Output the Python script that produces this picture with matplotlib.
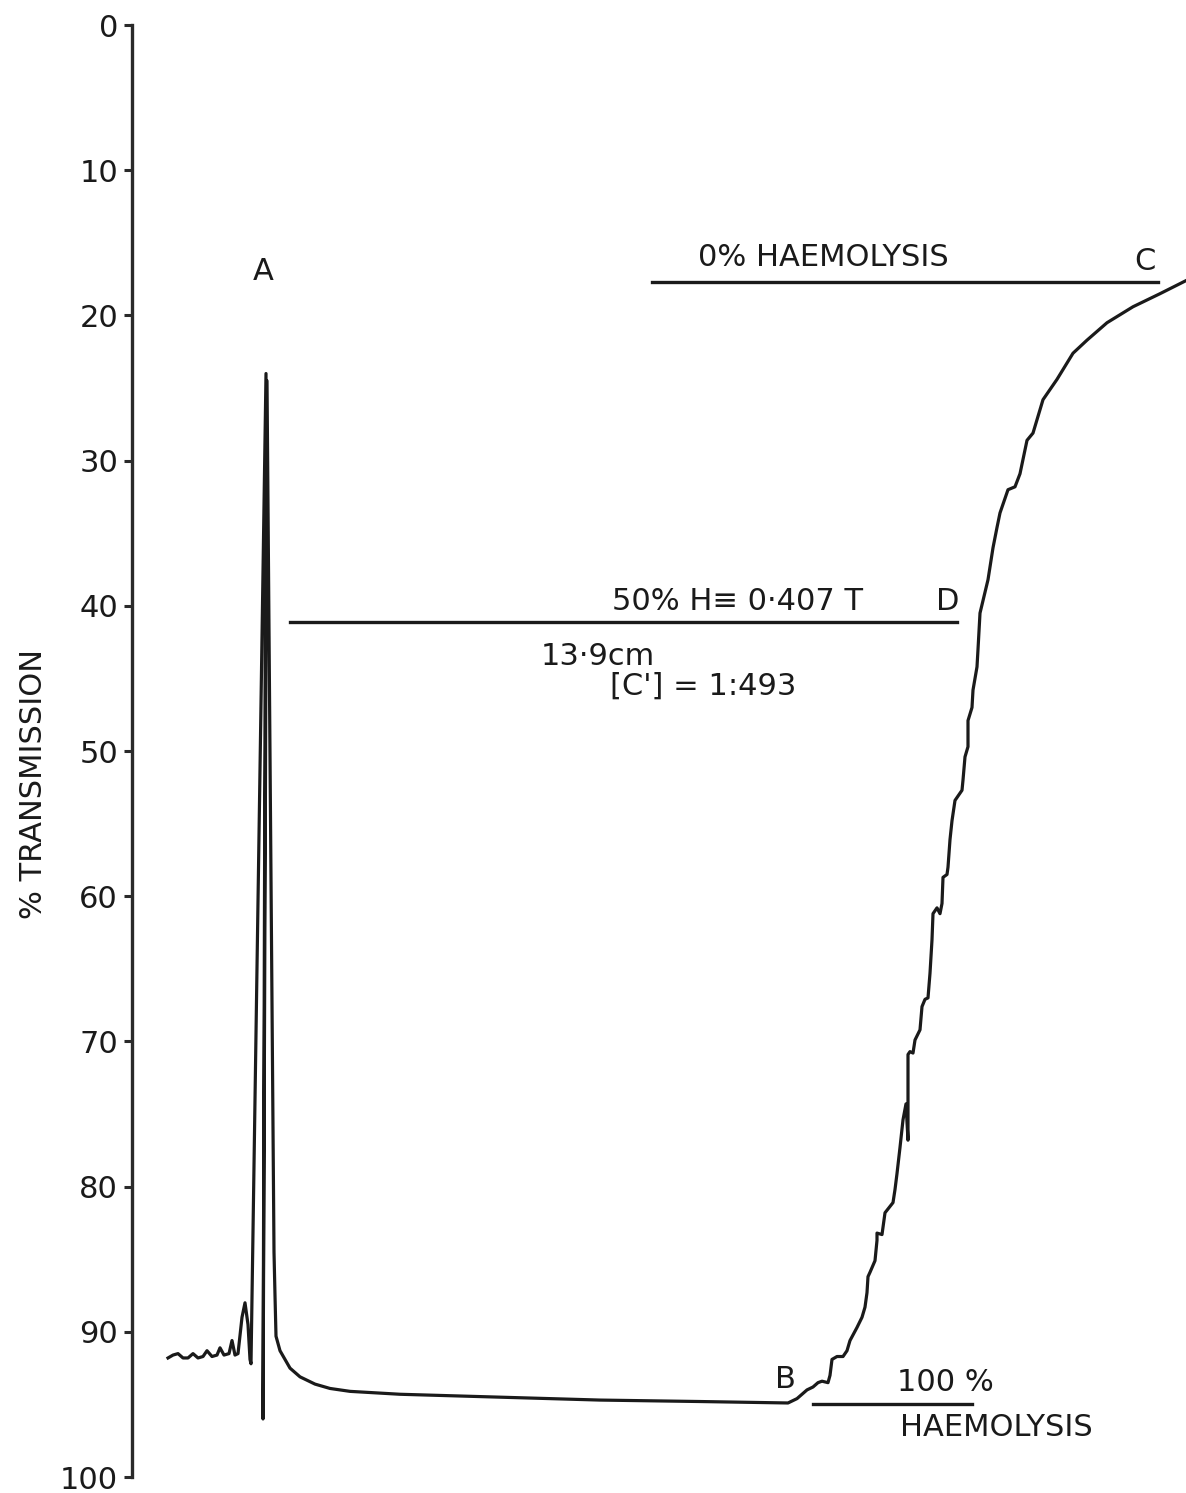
import numpy as np
import matplotlib.pyplot as plt

plt.rcParams['font.family'] = ['DejaVu Sans']

# chart distance along the recorder trace (arbitrary units) and % transmission
trace_x = [168, 173, 178, 183, 188, 193, 198, 203, 207, 212, 217, 220, 224, 229,
           232, 235, 238, 242, 245, 248, 250, 251, 266, 263, 267, 274, 275, 276,
           280, 290, 300, 315, 330, 350, 400, 500, 600, 700, 788,
           797, 807, 813, 818, 822, 828, 830, 832, 837, 843, 847, 850, 857, 862,
           865, 867, 868, 870, 875, 877, 877, 882, 885, 893, 895, 897, 900, 903,
           906, 908, 908, 908, 910, 913, 915, 920, 922, 925, 928, 930, 932, 933,
           937, 940, 942, 943, 947, 948, 950, 952, 955, 960, 962, 963, 965, 968,
           968, 972, 973, 977, 978, 980, 988, 993, 997, 1000, 1008, 1015, 1020,
           1027, 1033, 1043, 1057, 1073, 1087, 1107, 1133, 1160, 1186]
trace_t = [91.8, 91.6, 91.5, 91.8, 91.8, 91.5, 91.8, 91.7, 91.3, 91.7, 91.6, 91.1, 91.6, 91.5,
           90.6, 91.6, 91.5, 89.0, 88.0, 89.5, 91.9, 92.2, 24.0, 96.0, 24.5, 84.5, 87.5, 90.3,
           91.3, 92.5, 93.1, 93.6, 93.9, 94.1, 94.3, 94.5, 94.7, 94.8, 94.9,
           94.6, 94.0, 93.8, 93.5, 93.4, 93.5, 93.0, 91.9, 91.7, 91.7, 91.3, 90.6, 89.7, 89.0,
           88.3, 87.3, 86.2, 85.9, 85.1, 83.7, 83.2, 83.3, 81.8, 81.1, 80.2, 79.1, 77.3, 75.4,
           74.3, 76.8, 74.0, 70.9, 70.7, 70.8, 69.9, 69.2, 67.6, 67.1, 67.0, 65.3, 63.0, 61.2,
           60.8, 61.2, 60.5, 58.7, 58.5, 58.0, 56.1, 54.8, 53.4, 52.9, 52.7, 52.0, 50.4, 49.7,
           47.9, 47.0, 45.8, 44.2, 43.0, 40.5, 38.2, 36.0, 34.6, 33.6, 32.0, 31.8, 30.9,
           28.6, 28.1, 25.8, 24.4, 22.6, 21.7, 20.5, 19.4, 18.5, 17.6]

# reference levels: (level, x start, x end)
level_0 = (17.7, 652, 1158)
level_50 = (41.1, 290, 957)
level_100 = (95.0, 813, 972)

yticks = [0, 10, 20, 30, 40, 50, 60, 70, 80, 90, 100]

fig = plt.figure(figsize=(11.86, 14.93), dpi=100)
ax = fig.add_axes([0.1113, 0.0107, 0.8887, 0.9725])
ink = '#1a1a1a'

ax.plot(trace_x, trace_t, color=ink, lw=2.3, solid_joinstyle='round')
for lev, x0, x1 in [level_0, level_50, level_100]:
    ax.plot([x0, x1], [lev, lev], color=ink, lw=2.4)

ax.set_xlim(132, 1186)
ax.set_ylim(100, 0)
ax.set_yticks(yticks)
ax.set_xticks([])
for s in ['top', 'right', 'bottom']:
    ax.spines[s].set_visible(False)
ax.spines['left'].set_linewidth(2.4)
ax.spines['left'].set_color('#2a2a2a')
ax.tick_params(axis='y', direction='out', length=6, width=2.2, color='#2a2a2a',
               labelsize=22, pad=4, labelcolor=ink)
ax.set_ylabel('% TRANSMISSION', fontsize=22, color=ink)
ax.yaxis.set_label_coords(-0.08, 0.477)

fs = 22
ax.text(263, 17.0, 'A', fontsize=fs, ha='center', va='center', color=ink)
ax.text(698, 16.0, '0% HAEMOLYSIS', fontsize=fs, ha='left', va='center', color=ink)
ax.text(1145, 16.25, 'C', fontsize=fs, ha='center', va='center', color=ink)
ax.text(612, 39.7, '50% H\u2261 0\u00b7407 T', fontsize=fs, ha='left', va='center', color=ink)
ax.text(948, 39.7, 'D', fontsize=fs, ha='center', va='center', color=ink)
ax.text(541, 43.5, '13\u00b79cm', fontsize=fs, ha='left', va='center', color=ink)
ax.text(610, 45.5, "[C'] = 1:493", fontsize=fs, ha='left', va='center', color=ink)
ax.text(785, 93.3, 'B', fontsize=fs, ha='center', va='center', color=ink)
ax.text(897, 93.5, '100 %', fontsize=fs, ha='left', va='center', color=ink)
ax.text(900, 96.6, 'HAEMOLYSIS', fontsize=fs, ha='left', va='center', color=ink)

fig.savefig('out.png', dpi=100)
